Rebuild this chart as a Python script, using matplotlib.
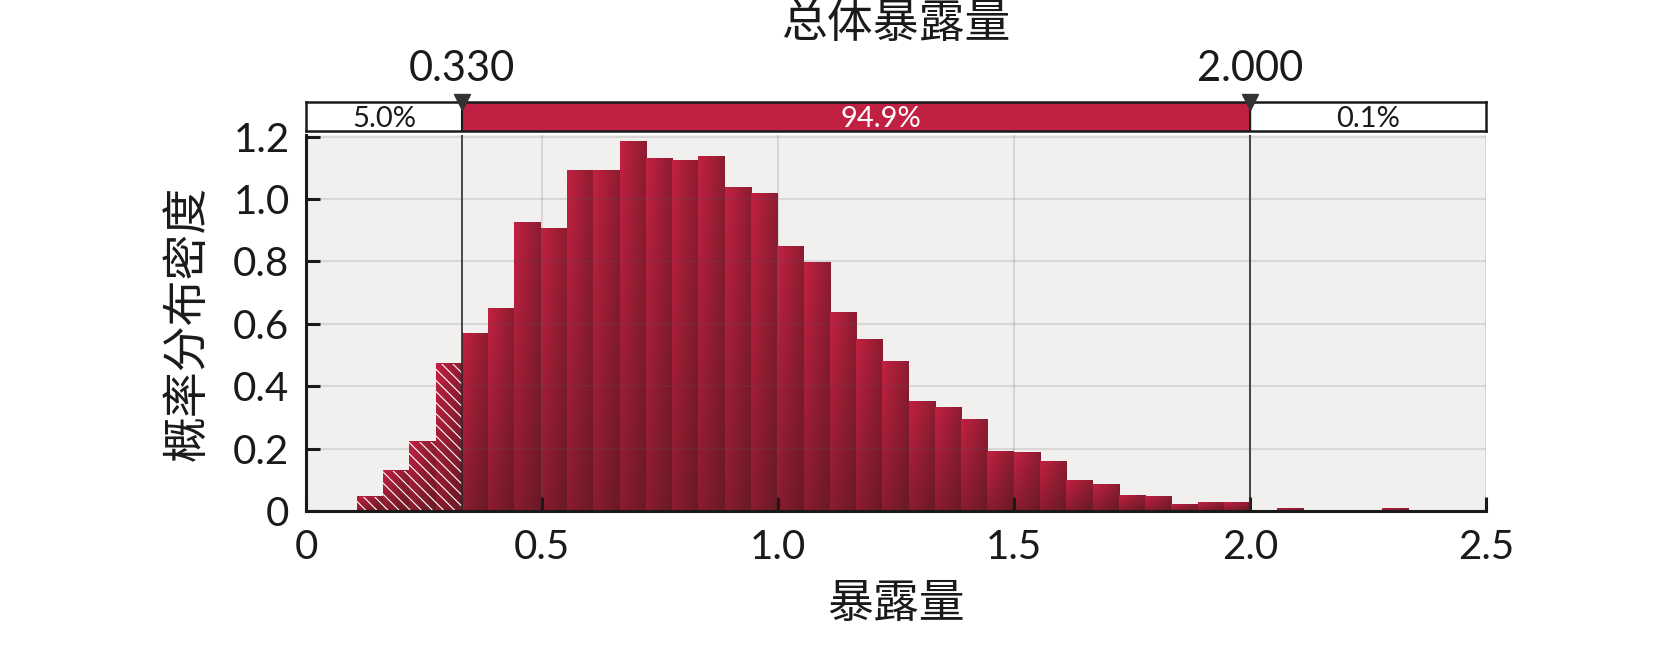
import numpy as np
import matplotlib
matplotlib.use('Agg')
from matplotlib import pyplot as plt

plt.rcParams['font.family'] = ['Lato', 'Noto Sans CJK SC', 'DejaVu Sans']
plt.rcParams['hatch.linewidth'] = 0.8

# data
lo_cut = 0.33
hi_cut = 2.0
n_mid = 30  # bins between the two cuts
density = [0.046, 0.129, 0.222, 0.472,
           0.568, 0.649, 0.925, 0.907, 1.093, 1.093, 1.183, 1.129, 1.125, 1.136,
           1.037, 1.019, 0.848, 0.797, 0.637, 0.550, 0.480, 0.350, 0.333, 0.293,
           0.192, 0.187, 0.158, 0.098, 0.086, 0.051, 0.046, 0.022, 0.027, 0.027,
           0.003, 0.009, 0.002, 0.002, 0.002, 0.009]
n_low = 4  # bins below the lower cut
band_labels = ['5.0%', '94.9%', '0.1%']
cut_labels = ['0.330', '2.000']
x_ticks = [0, 0.5, 1.0, 1.5, 2.0, 2.5]
x_ticklabels = ['0', '0.5', '1.0', '1.5', '2.0', '2.5']
y_ticks = [0, 0.2, 0.4, 0.6, 0.8, 1.0, 1.2]
y_ticklabels = ['0', '0.2', '0.4', '0.6', '0.8', '1.0', '1.2']

width = (hi_cut - lo_cut) / n_mid
edges = lo_cut + width * (np.arange(len(density)) - n_low)

red = '#c02142'
fig = plt.figure(figsize=(16.73, 6.48), dpi=100)
ax = fig.add_axes([0.183, 0.2115, 0.7054, 0.5801])
ax.set_facecolor('#f1f0ee')

# gradient for each bar: bright top-left, dark bottom-right
tl = np.array([194, 33, 66]) / 255
tr = np.array([140, 28, 48]) / 255
bl = np.array([140, 28, 46]) / 255
br = np.array([104, 26, 38]) / 255
s = np.linspace(0, 1, 32)[:, None, None]   # 0 top -> 1 bottom
t = np.linspace(0, 1, 32)[None, :, None]   # 0 left -> 1 right
grad = (tl * (1 - s) * (1 - t) + tr * (1 - s) * t + bl * s * (1 - t) + br * s * t)

for i, (x0, h) in enumerate(zip(edges, density)):
    ax.imshow(grad, extent=(x0, x0 + width, 0, h), aspect='auto',
              interpolation='bilinear', zorder=2)
    if i < n_low:
        ax.bar(x0, h, width=width, align='edge', facecolor='none',
               edgecolor='white', linewidth=0, hatch='\\\\\\', zorder=3)

ax.set_xlim(0, 2.5)
ax.set_ylim(0, 1.205)
ax.set_xticks(x_ticks)
ax.set_xticklabels(x_ticklabels)
ax.set_yticks(y_ticks)
ax.set_yticklabels(y_ticklabels)
ax.set_axisbelow(False)
ax.grid(True, color='0.35', alpha=0.16, linewidth=1.5)
for gl in ax.get_xgridlines() + ax.get_ygridlines():
    gl.set_zorder(4)
for sp in ['top', 'right']:
    ax.spines[sp].set_visible(False)
for sp in ['left', 'bottom']:
    ax.spines[sp].set_linewidth(2.2)
    ax.spines[sp].set_color('#1a1a1a')
    ax.spines[sp].set_zorder(6)
ax.tick_params(direction='in', length=10, width=2.2, labelsize=29, color='#1a1a1a',
               labelcolor='#1a1a1a')
ax.tick_params(axis='x', pad=13)
ax.tick_params(axis='y', pad=12)

for xc in [lo_cut, hi_cut]:
    ax.axvline(xc, color='#2b2b2b', linewidth=1.2, zorder=5)

ax.set_xlabel('暴露量', fontsize=33, labelpad=12, color='#1a1a1a')
ax.set_ylabel('概率分布密度', fontsize=33, labelpad=18, color='#1a1a1a')

# probability band on top
band = fig.add_axes([0.183, 0.7979, 0.7054, 0.0447])
band.set_xlim(0, 2.5)
band.set_ylim(0, 1)
band.axvspan(lo_cut, hi_cut, color=red, zorder=1)
for xc in [lo_cut, hi_cut]:
    band.axvline(xc, color='#1a1a1a', linewidth=1.5, zorder=2)
band.set_xticks([])
band.set_yticks([])
for sp in band.spines.values():
    sp.set_linewidth(1.8)
    sp.set_color('#1a1a1a')
band.text((0 + lo_cut) / 2, 0.42, band_labels[0], ha='center', va='center',
          fontsize=21, color='#1a1a1a')
band.text(1.218, 0.42, band_labels[1], ha='center', va='center',
          fontsize=21, color='white')
band.text((hi_cut + 2.5) / 2, 0.42, band_labels[2], ha='center', va='center',
          fontsize=21, color='#1a1a1a')
band.plot([lo_cut, hi_cut], [1.0, 1.0], linestyle='none', marker='v', markersize=11,
          color='#333333', clip_on=False, zorder=5)
for xc, lab in zip([lo_cut, hi_cut], cut_labels):
    band.text(xc, 1.5, lab, ha='center', va='bottom', fontsize=30, color='#1a1a1a')

fig.text(0.5357, 0.963, '总体暴露量', ha='center', va='center', fontsize=33, color='#1a1a1a')

fig.savefig('out.png', dpi=100, facecolor='white')
